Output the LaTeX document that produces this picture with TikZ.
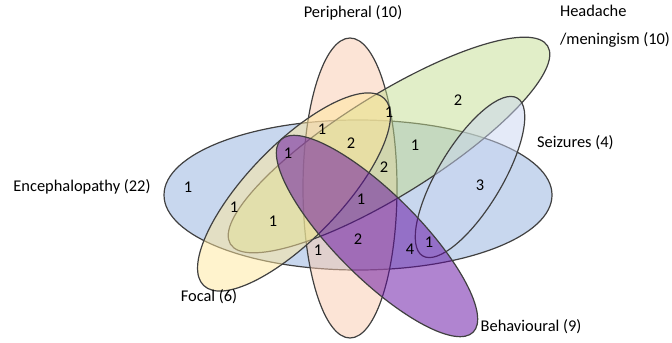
\documentclass[tikz,border=0pt]{standalone}
\usepackage{fontspec}
\setmainfont{Carlito}

\definecolor{encblue}{RGB}{145,175,221}
\definecolor{periph}{RGB}{249,201,173}
\definecolor{headgreen}{RGB}{195,221,145}
\definecolor{seizblue}{RGB}{201,213,241}
\definecolor{focalyellow}{RGB}{255,231,155}
\definecolor{behpurple}{RGB}{97,10,161}

\begin{document}
\begin{tikzpicture}[x=0.5pt, y=-0.5pt, font=\fontsize{8.2}{10}\selectfont,
  set/.style={draw=black!75, line width=0.6pt, fill opacity=0.5},
  count/.style={inner sep=1pt}]
  \useasboundingbox (0,0) rectangle (672,342);

  % The six sets
  \draw[set, fill=encblue] (358,195) ellipse [x radius=194, y radius=75];
  \draw[set, fill=periph] (350,188) ellipse [x radius=47, y radius=150];
  \draw[set, fill=headgreen, rotate around={32:(389,145)}] (389,145) ellipse [x radius=187, y radius=50];
  \draw[set, fill=seizblue, rotate around={59:(470,177)}] (470,177) ellipse [x radius=92, y radius=32];
  \draw[set, fill=focalyellow, rotate around={46:(294,192)}] (294,192) ellipse [x radius=130, y radius=47];
  \draw[set, fill=behpurple, rotate around={-45:(377,236)}] (377,236) ellipse [x radius=136, y radius=42];

  % Set names
  \node (enc) at (82,187) {Encephalopathy (22)};
  \node (per) at (353,13) {Peripheral (10)};
  \node[align=left, anchor=west, font=\fontsize{8.2}{14}\selectfont] (head) at (553,26) {Headache\\/meningism (10)};
  \node[anchor=west] (seiz) at (530,143) {Seizures (4)};
  \node (foc) at (209,297) {Focal (6)};
  \node (beh) at (531,327) {Behavioural (9)};

  % Counts in each region
  \foreach \x/\y/\n [count=\i] in {188/187/1, 234/207/1, 273/221/1, 322/129/1,
      288/153/1, 351/143/2, 389/112/1, 415/145/1, 384/167/2, 361/199/1,
      358/239/2, 318/250/1, 410/249/4, 429/242/1, 480/185/3, 458/100/2}
    \node[count] (c\i) at (\x,\y) {\n};
\end{tikzpicture}
\end{document}
